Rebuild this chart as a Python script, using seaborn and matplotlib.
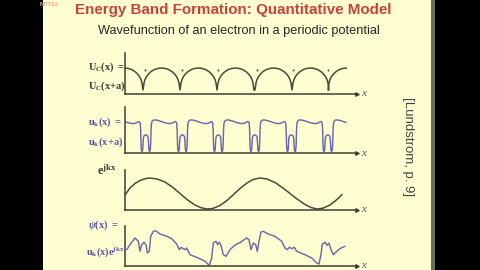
import numpy as np
import pandas as pd
import matplotlib
matplotlib.use("Agg")
import matplotlib.pyplot as plt
from matplotlib.patches import Rectangle
import seaborn as sns

# ---------------- data (x: position along the axis, h: height above the axis) -------------
# Panel 1: periodic Coulomb potential U_C(x)
cusp_x = [-19, 18, 55, 92, 130, 167, 203]
arch_dx = [0, 1, 2, 3.5, 5.5, 7.5, 11, 15, 18.5, 22, 26, 29.5, 31.5, 33.5, 35, 36, 37]
arch_h = [4, 11, 14.5, 17.5, 20, 22, 24.3, 25.6, 26, 25.6, 24.3, 22, 20, 17.5, 14.5, 11, 4]
ion_x = [20, 57, 93, 132, 168, 203]
ion_h = [24, 24, 24, 24, 24, 24]

# Panel 2: periodic part u_k(x)
well_x = [-15.5, 21, 57.5, 93.5, 130, 166.5, 203]
well_dx = [-6.5, -5.8, -5.3, -5.0, -4.6, -4.0, -3.4, -3.0, -2.6, -2.0, -1.0, 0.5, 1.6, 2.2,
           2.6, 3.0, 3.6, 4.2, 4.7, 5.0, 5.4, 6.0, 7.5, 10, 14, 18, 22, 25, 27.5, 29]
well_h = [31, 30, 22, 9, 2.5, 1.5, 2.5, 9, 15, 17, 18, 18, 17, 15,
          9, 2.5, 1.5, 2.5, 9, 22, 29, 31.5, 33, 33, 32, 30.5, 29.5, 29.5, 30.5, 31.5]
curve_end = 222

# Panel 3: plane wave e^{jkx}
wave_x = [0, 5, 10, 15, 20, 25, 32, 40, 48, 55, 62, 70, 76, 82, 88, 95, 102, 108, 115,
          122, 128, 135, 142, 150, 158, 165, 172, 180, 186, 192, 198, 205, 212, 217]
wave_h = [15, 22, 26.5, 29.5, 31.3, 32, 31, 28, 22.5, 16.5, 10.5, 5, 2.3, 1, 1.6, 4.5, 9.5,
          15, 21.5, 27, 30.5, 32, 31, 27.5, 22, 16.5, 11, 5.5, 2.5, 1, 1.8, 5, 10.5, 15.5]

# Panel 4: Bloch function psi(x) = u_k(x) e^{jkx}
psi_x = [1.7, 5, 10, 13.3, 15, 16.7, 19, 21, 22.3, 24.3, 25.7, 28.3, 30.7, 35, 41.7, 46.7,
         51.7, 54.3, 56, 58.3, 60, 61.7, 65, 73.3, 80, 84.3, 86.7, 88.3, 91, 92.7, 94.3, 96,
         98.3, 101, 105, 110, 115, 121.7, 124, 126, 128.3, 130.7, 132.3, 134, 136, 138.3,
         143.3, 150, 156.7, 160, 162.3, 164.3, 166.7, 169.3, 171.7, 180, 186.7, 191.7, 194,
         196, 197.3, 200, 202, 204, 206, 208.3, 211.7, 216, 220]
psi_h = [16.3, 21.3, 28, 24.7, 14.7, 21.3, 23.7, 21.3, 13, 14.7, 29.7, 34.7, 35.3, 32, 29.7,
         27.3, 22, 16.3, 18.7, 17.3, 16.3, 18, 11.3, 8, 4.7, 0.7, 8, 23, 24.7, 21.3, 23.7,
         20.7, 11.3, 9.7, 16.3, 21, 23.5, 28, 26.3, 16.3, 23, 21.3, 14.7, 24.7, 34, 34.7, 32,
         29.7, 24.7, 18, 16.3, 18.7, 17.3, 18.7, 14.7, 11.3, 8, 3, 2, 11.3, 22, 23.7, 20.7,
         23, 16.3, 11.3, 14.7, 18, 19.7]

# ---------------- assemble curves from the read profiles -------------
u_x = [c + d for c in cusp_x for d in arch_dx]
u_y = [h for c in cusp_x for h in arch_h]
df_u = pd.DataFrame({"x": u_x, "h": u_y})
df_u = df_u[df_u.x <= curve_end]

k_x = [c + d for c in well_x for d in well_dx]
k_y = [h for c in well_x for h in well_h]
df_k = pd.DataFrame({"x": k_x, "h": k_y})
df_k = df_k[df_k.x <= curve_end]

df_w = pd.DataFrame({"x": wave_x, "h": wave_h})
df_p = pd.DataFrame({"x": psi_x, "h": psi_h})
df_ion = pd.DataFrame({"x": ion_x, "h": ion_h})

# ---------------- styling -------------
sns.set_style("white")
plt.rcParams["font.family"] = ["Liberation Sans", "DejaVu Sans"]
plt.rcParams["mathtext.fontset"] = "custom"
plt.rcParams["mathtext.rm"] = "Liberation Serif:bold"
plt.rcParams["mathtext.it"] = "Liberation Serif:italic:bold"
plt.rcParams["mathtext.bf"] = "Liberation Serif:bold"

W, H = 480, 270
fig = plt.figure(figsize=(4.8, 2.7), dpi=100, facecolor="black")

def fx(px):
    return px / W

def fy(py):
    return 1 - py / H

slide_col = "#FFFFD2"
bg = fig.add_axes([0, 0, 1, 1], zorder=-10)
bg.set_xlim(0, W)
bg.set_ylim(H, 0)
bg.axis("off")
bg.add_patch(Rectangle((43, 0), 388, H, facecolor=slide_col, edgecolor="none"))
bg.add_patch(Rectangle((431, 0), 3.5, H, facecolor="#6b6b58", edgecolor="none"))

# title texts
fig.text(fx(40), fy(5), "NPTEL", fontsize=4.5, color="#f2b090", fontweight="bold",
         ha="left", va="center")
fig.text(fx(233), fy(10), "Energy Band Formation: Quantitative Model", fontsize=10.9,
         fontweight="bold", color="#C8423A", ha="center", va="center")
fig.text(fx(239), fy(31), "Wavefunction of an electron in a periodic potential", fontsize=9.2,
         color="#262626", ha="center", va="center")
fig.text(fx(408), fy(147), "[Lundstrom, p. 9]", fontsize=9.5, color="#444444",
         rotation=270, ha="center", va="center")

dark = "#4a4a3c"
purple = "#6a6aaa"
axis_col = "#3e3e36"

panels = [  # (baseline px, height px)
    (94, 41), (153, 46), (210, 40), (266, 40)
]
axes = []
for base, hgt in panels:
    ax = fig.add_axes([fx(125), fy(base), fx(232), hgt / H], zorder=2)
    ax.set_xlim(0, 232)
    ax.set_ylim(0, hgt)
    ax.patch.set_alpha(0)
    for s in ["top", "right"]:
        ax.spines[s].set_visible(False)
    for s in ["left", "bottom"]:
        ax.spines[s].set_visible(True)
        ax.spines[s].set_color(axis_col)
        ax.spines[s].set_linewidth(1.1)
    ax.set_xticks([])
    ax.set_yticks([])
    ax.plot(1, 0, marker=">", ms=2.5, color=axis_col, transform=ax.transAxes, clip_on=False)
    ax.text(1.02, 0.0, "x", transform=ax.transAxes, fontsize=8, style="italic",
            family="Liberation Serif", color="#555555", ha="left", va="center")
    axes.append(ax)

sns.lineplot(data=df_u, x="x", y="h", ax=axes[0], color=dark, lw=1.1, sort=False, estimator=None)
sns.scatterplot(data=df_ion, x="x", y="h", ax=axes[0], color=dark, s=2, linewidth=0)
sns.lineplot(data=df_k, x="x", y="h", ax=axes[1], color=purple, lw=1.05, sort=False, estimator=None)
sns.lineplot(data=df_w, x="x", y="h", ax=axes[2], color=dark, lw=1.1, sort=False, estimator=None)
sns.lineplot(data=df_p, x="x", y="h", ax=axes[3], color=purple, lw=1.05, sort=False, estimator=None)
for ax, (base, hgt) in zip(axes, panels):
    ax.set_xlabel("")
    ax.set_ylabel("")
    ax.set_xlim(0, 232)
    ax.set_ylim(0, hgt)

# panel labels
lab = dict(fontsize=7.5, ha="left", va="center")
fig.text(fx(88), fy(67), r"$\mathrm{U}_{\mathit{C}}\mathrm{(x)\ =}$", color="#3a3a3a", **lab)
fig.text(fx(88), fy(86), r"$\mathrm{U}_{\mathit{C}}\mathrm{(x\!+\!a)}$", color="#3a3a3a", **lab)
fig.text(fx(88), fy(122), r"$\mathrm{u}_{\mathrm{k}}\mathrm{(x)\ =}$", color="#5858a2", **lab)
fig.text(fx(88), fy(142), r"$\mathrm{u}_{\mathrm{k}}\mathrm{(x\!+\!a)}$", color="#5858a2", **lab)
fig.text(fx(97), fy(171), r"$\mathrm{e}^{\mathrm{jkx}}$", color="#3a3a3a", fontsize=9,
         ha="left", va="center")
fig.text(fx(88), fy(225), r"$\psi\mathrm{(x)\ =}$", color="#5858a2", **lab)
fig.text(fx(86), fy(252), r"$\mathrm{u}_{\mathrm{k}}\mathrm{(x)e}^{\mathrm{jkx}}$",
         color="#5858a2", **lab)

fig.savefig("out.png", dpi=100, facecolor="black")
